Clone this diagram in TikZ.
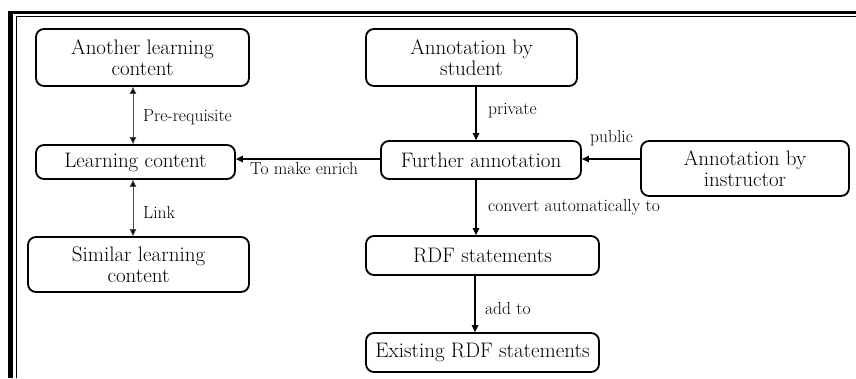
\documentclass[tikz,border=0pt]{standalone}
\usetikzlibrary{arrows.meta}

\begin{document}
\begin{tikzpicture}[x=1pt,y=-1pt,
  box/.style={draw, line width=1.8pt, rounded corners=8pt, align=center,
    inner sep=0pt, font=\fontsize{21}{21.5}\selectfont},
  lbl/.style={inner sep=0pt, anchor=west, font=\fontsize{17.5}{19}\selectfont},
  flow/.style={line width=1.3pt, -{Triangle[length=7pt,width=6.5pt]}},
  link/.style={line width=0.9pt, draw=black!70,
    {Triangle[length=7pt,width=6.5pt,fill=black]}-{Triangle[length=7pt,width=6.5pt,fill=black]}}]

  \useasboundingbox (0,0) rectangle (856,378);

  % frame: heavy outer rule with a thin inner rule
  \draw[line width=3pt] (856,12.5) -- (10.5,12.5) -- (10.5,378);
  \draw[line width=5pt] (10.5,11) -- (10.5,378);
  \draw[line width=1pt] (856,16.5) -- (16,16.5) -- (16,378);

  % learning-content column
  \node[box, minimum width=213pt, minimum height=57pt] (alc) at (142.5,57.5) {Another learning\\content};
  \node[box, minimum width=199pt, minimum height=34pt] (lc) at (135.5,162) {Learning content};
  \node[box, minimum width=221pt, minimum height=55pt] (slc) at (138.5,264.5) {Similar learning\\content};

  % annotation column
  \node[box, minimum width=211pt, minimum height=57pt] (stu) at (471.5,57.5) {Annotation by\\student};
  \node[box, minimum width=200pt, minimum height=38pt] (fa) at (481,160) {Further annotation};
  \node[box, minimum width=208pt, minimum height=55pt] (ins) at (745,168.5) {Annotation by\\instructor};
  \node[box, minimum width=233pt, minimum height=39pt] (rdf) at (482.5,255.5) {RDF statements};
  \node[box, minimum width=233pt, minimum height=39pt] (erdf) at (482.5,352.5) {Existing RDF statements};

  % vertical guide columns for the arrows
  \coordinate (colL) at (133,0);
  \coordinate (colR) at (476,0);
  \coordinate (rowM) at (0,159);

  % connectors
  \draw[link] (alc.south -| colL) -- (lc.north -| colL);
  \draw[link] (lc.south -| colL) -- (slc.north -| colL);
  \draw[flow] (stu.south -| colR) -- (fa.north -| colR);
  \draw[flow] (fa.west |- rowM) -- (lc.east |- rowM);
  \draw[flow] (ins.west |- rowM) -- (fa.east |- rowM);
  \draw[flow] (fa.south -| colR) -- (rdf.north -| colR);
  \draw[flow] ([xshift=-1pt]rdf.south -| colR) -- ([xshift=-1pt]erdf.north -| colR);

  % connector labels
  \node[lbl] (l1) at (143,117) {Pre-requisite};
  \node[lbl] (l2) at (143,212) {Link};
  \node[lbl] (l3) at (250,168) {To make enrich};
  \node[lbl] (l4) at (488,111) {private};
  \node[lbl] (l5) at (590,138) {public};
  \node[lbl] (l6) at (488,207) {convert automatically to};
  \node[lbl] (l7) at (485,308) {add to};
\end{tikzpicture}
\end{document}
